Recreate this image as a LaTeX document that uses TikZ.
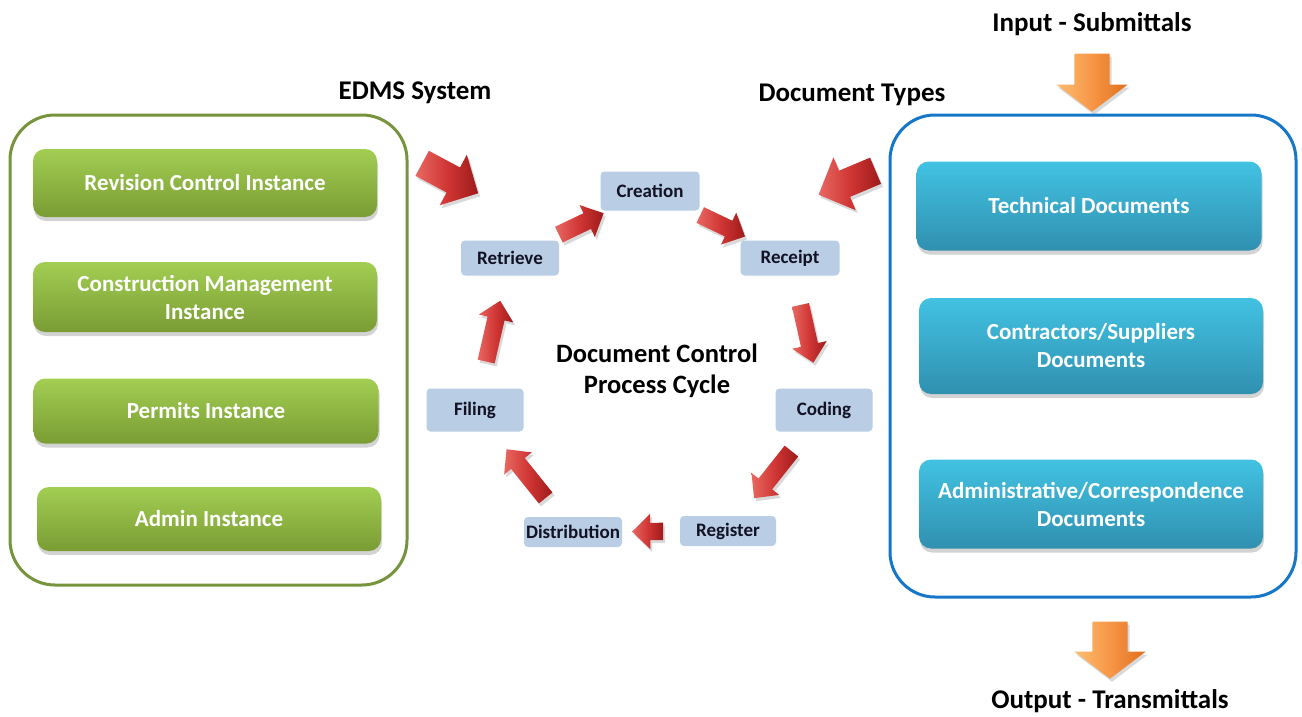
\documentclass[tikz,border=0pt]{standalone}
\usepackage{fontspec}
\setmainfont{Carlito}
\usetikzlibrary{shapes.arrows,shadows,calc}

\definecolor{edmsline}{RGB}{119,147,60}
\definecolor{typeline}{RGB}{22,118,200}
\definecolor{greentop}{RGB}{162,206,82}
\definecolor{greenbot}{RGB}{122,156,52}
\definecolor{bluetop}{RGB}{66,194,226}
\definecolor{bluebot}{RGB}{48,144,176}
\definecolor{stepfill}{RGB}{185,205,229}
\definecolor{steptext}{RGB}{18,18,36}
\definecolor{arrowlight}{RGB}{232,104,98}
\definecolor{arrowmid}{RGB}{208,54,52}
\definecolor{arrowdark}{RGB}{158,26,26}
\definecolor{orangelight}{RGB}{252,190,114}
\definecolor{orangemid}{RGB}{247,150,70}
\definecolor{orangedark}{RGB}{224,112,30}

% block arrow from #2 to #3: shaft width #4, head width #5, head length #6 (numbers in pt)
\newcommand{\blockarrow}[6]{%
  \path let \p1=($(#3)-(#2)$), \n1={atan2(\y1,\x1)}, \n2={veclen(\x1,\y1)} in
    node[#1, single arrow, inner xsep=0pt, inner ysep={#4/2}, rotate=\n1,
      minimum height=\n2, minimum width=0pt,
      single arrow head extend={(#5-#4)/2},
      single arrow tip angle={2*atan((#5/2)/#6)}, anchor=center]
      at ($(#2)!0.5!(#3)$) {};%
}
% red arrow placed on the segment between two cycle steps
\newcommand{\cyclearrow}[4]{%
  \coordinate (#1-#2-t) at ($(#1)!#3!(#2)$);
  \coordinate (#1-#2-h) at ($(#1)!#4!(#2)$);
  \blockarrow{redarrow}{#1-#2-t}{#1-#2-h}{17}{35}{18}%
}

\begin{document}
\begin{tikzpicture}[x=1pt,y=-1pt,
  container/.style={draw, line width=3pt, rounded corners=45pt},
  instbox/.style={rounded corners=12pt, top color=greentop, bottom color=greenbot,
    text=white, font=\fontsize{23}{28}\selectfont\bfseries, align=center,
    inner sep=0pt, drop shadow={opacity=0.35, shadow xshift=1pt, shadow yshift=-4pt}},
  typebox/.style={instbox, top color=bluetop, bottom color=bluebot},
  stepbox/.style={fill=stepfill, rounded corners=4pt, text=steptext,
    font=\fontsize{19}{22}\selectfont\bfseries, inner sep=0pt},
  lbl/.style={font=\fontsize{27}{31}\selectfont\bfseries, align=center, text=black},
  redarrow/.style={left color=arrowlight, right color=arrowdark, middle color=arrowmid,
    drop shadow={opacity=0.3, shadow xshift=2pt, shadow yshift=-3pt}},
  orangearrow/.style={left color=orangelight, right color=orangedark, middle color=orangemid,
    drop shadow={opacity=0.3, shadow xshift=2pt, shadow yshift=-3pt}}
]
\useasboundingbox (0,0) rectangle (1302,717);

% containers
\draw[container, edmsline] (10,115) rectangle (407,585);
\draw[container, typeline] (890,115) rectangle (1296,597);

% headings
\node[lbl] (edms) at (415,93) {EDMS System};
\node[lbl] (types) at (852,95) {Document Types};
\node[lbl] (input) at (1092,24) {Input - Submittals};
\node[lbl] (output) at (1110,701) {Output - Transmittals};
\node[lbl, font=\fontsize{26.5}{31}\selectfont\bfseries] (title) at (657,371) {Document Control\\Process Cycle};

% EDMS instances
\node[instbox, minimum width=344pt, minimum height=68pt] (rev) at (205,183) {Revision Control Instance};
\node[instbox, minimum width=344pt, minimum height=70pt] (cm) at (205,297) {Construction Management\\Instance};
\node[instbox, minimum width=345pt, minimum height=65pt] (perm) at (206,411) {Permits Instance};
\node[instbox, minimum width=344pt, minimum height=64pt] (admin) at (209,519) {Admin Instance};

% document types
\node[typebox, minimum width=345pt, minimum height=89pt] (tech) at (1089,206) {Technical Documents};
\node[typebox, minimum width=344pt, minimum height=96pt] (contr) at (1091,346) {Contractors/Suppliers\\Documents};
\node[typebox, minimum width=344pt, minimum height=89pt] (corr) at (1091,504) {Administrative/Correspondence\\Documents};

% process cycle steps
\node[stepbox, minimum width=99pt, minimum height=39pt] (creation) at (650,191) {Creation};
\node[stepbox, minimum width=99pt, minimum height=35pt] (receipt) at (790,258) {Receipt};
\node[stepbox, minimum width=97pt, minimum height=43pt] (coding) at (824,410) {Coding};
\node[stepbox, minimum width=96pt, minimum height=30pt] (register) at (728,531) {Register};
\node[stepbox, minimum width=98pt, minimum height=30pt] (distribution) at (573,532) {Distribution};
\node[stepbox, minimum width=97pt, minimum height=43pt] (filing) at (475,410) {Filing};
\node[stepbox, minimum width=98pt, minimum height=35pt] (retrieve) at (510,258) {Retrieve};

% cycle arrows
\cyclearrow{retrieve}{creation}{0.32}{0.64}
\cyclearrow{creation}{receipt}{0.33}{0.65}
\cyclearrow{receipt}{coding}{0.28}{0.66}
\cyclearrow{coding}{register}{0.31}{0.70}
\cyclearrow{register}{distribution}{0.39}{0.59}
\cyclearrow{distribution}{filing}{0.25}{0.65}
\cyclearrow{filing}{retrieve}{0.29}{0.69}

% arrows into the cycle
\coordinate (edmsTail) at (416,160);
\coordinate (edmsTip) at (472,190);
\coordinate (typesTail) at (882,168);
\coordinate (typesTip) at (825,192);
\blockarrow{redarrow}{edmsTail}{edmsTip}{28}{57}{28}
\blockarrow{redarrow}{typesTail}{typesTip}{28}{57}{28}

% submittals in, transmittals out
\coordinate (inTail) at (1092,47);
\coordinate (inTip) at (1092,105);
\coordinate (outTail) at (1110,615);
\coordinate (outTip) at (1110,672);
\blockarrow{orangearrow}{inTail}{inTip}{35}{71}{27}
\blockarrow{orangearrow}{outTail}{outTip}{35}{71}{27}
\end{tikzpicture}
\end{document}
